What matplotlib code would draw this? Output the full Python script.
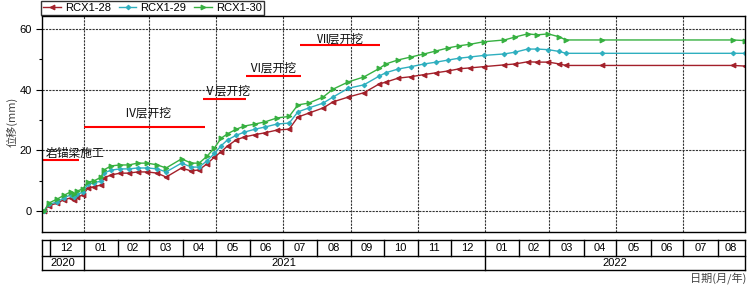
import numpy as np
import pandas as pd
import matplotlib
matplotlib.use("Agg")
import matplotlib.pyplot as plt
import matplotlib.dates as mdates
import matplotlib.transforms as mtransforms
from matplotlib.ticker import MultipleLocator

plt.rcParams['font.family'] = ['Liberation Sans', 'Noto Sans CJK SC', 'DejaVu Sans']

# 观测日期
dates = pd.to_datetime([
    "2020-11-26", "2020-11-30", "2020-12-08", "2020-12-14", "2020-12-20", "2020-12-23",
    "2020-12-26", "2020-12-31", "2021-01-05", "2021-01-10", "2021-01-17", "2021-01-19",
    "2021-01-26", "2021-02-03", "2021-02-11", "2021-02-19", "2021-02-28", "2021-03-09",
    "2021-03-17", "2021-03-31", "2021-04-09", "2021-04-16", "2021-04-23", "2021-04-30",
    "2021-05-06", "2021-05-12", "2021-05-20", "2021-05-27", "2021-06-06", "2021-06-15",
    "2021-06-26", "2021-07-07", "2021-07-15", "2021-07-25", "2021-08-07", "2021-08-16",
    "2021-08-30", "2021-09-13", "2021-09-27", "2021-10-03", "2021-10-14", "2021-10-26",
    "2021-11-07", "2021-11-18", "2021-11-29", "2021-12-09", "2021-12-19", "2021-12-31",
    "2022-01-19", "2022-01-29", "2022-02-09", "2022-02-18", "2022-02-28", "2022-03-10",
    "2022-03-16", "2022-04-18", "2022-08-15", "2022-08-26",
])

# 位移 (mm)
rcx1_28 = [0.0, 1.8, 2.6, 3.8, 4.3, 3.6, 4.6, 5.3, 7.6, 8.0, 8.6, 10.9,
           11.9, 12.5, 12.5, 12.9, 12.9, 12.5, 11.2, 14.2, 13.2, 13.6, 15.5, 17.8,
           19.5, 21.5, 23.5, 24.4, 25.2, 25.8, 26.7, 27.0, 31.0, 32.3, 34.0, 36.0,
           37.6, 39.0, 41.9, 42.5, 43.8, 44.3, 45.0, 45.6, 46.2, 46.9, 47.2, 47.6,
           48.2, 48.5, 49.2, 49.1, 49.1, 48.5, 48.0, 48.0, 48.0, 47.8]
rcx1_29 = [0.0, 2.2, 3.0, 4.4, 5.3, 4.6, 5.5, 6.2, 8.9, 9.3, 9.9, 12.5,
           13.5, 13.9, 13.9, 14.2, 14.2, 13.9, 12.9, 15.8, 14.5, 14.5, 16.5, 19.0,
           21.5, 23.5, 25.0, 26.0, 27.0, 27.7, 28.7, 29.0, 32.7, 34.0, 35.6, 37.6,
           40.5, 41.6, 44.5, 45.6, 46.8, 47.6, 48.5, 49.1, 49.8, 50.4, 50.8, 51.3,
           51.8, 52.4, 53.4, 53.4, 53.2, 52.6, 52.0, 52.0, 52.0, 52.0]
rcx1_30 = [0.0, 2.6, 4.0, 5.2, 6.3, 5.6, 6.6, 7.3, 9.6, 9.9, 11.2, 13.5,
           14.9, 15.2, 15.2, 15.8, 15.8, 15.2, 14.2, 17.2, 15.8, 15.8, 18.0, 20.8,
           24.0, 25.5, 27.0, 28.0, 28.7, 29.4, 30.7, 31.2, 35.0, 35.6, 37.6, 40.2,
           42.6, 44.2, 47.0, 48.5, 49.8, 50.8, 51.8, 52.8, 53.8, 54.5, 55.0, 55.8,
           56.4, 57.4, 58.4, 58.1, 58.4, 57.4, 56.4, 56.4, 56.4, 56.2]

series_names = ["RCX1-28", "RCX1-29", "RCX1-30"]

# 施工阶段标注: 文字, 线起点, 线终点, 线高度, 文字位置, 文字高度
stage_labels = ["岩锚梁施工", "Ⅳ层开挖", "Ⅴ层开挖", "Ⅵ层开挖", "Ⅶ层开挖"]
stage_start = ["2020-11-24", "2021-01-01", "2021-04-20", "2021-05-29", "2021-07-17"]
stage_end = ["2020-12-28", "2021-04-21", "2021-05-29", "2021-07-18", "2021-09-28"]
stage_y = [16.8, 27.7, 37.0, 44.6, 54.8]
stage_text_x = ["2020-11-27", "2021-02-28", "2021-05-11", "2021-06-22", "2021-08-23"]
stage_text_y = [19.1, 32.3, 39.6, 47.2, 56.8]

x_left = pd.Timestamp("2020-11-24")
x_right = pd.Timestamp("2022-08-26")

fig = plt.figure(figsize=(7.49, 2.86), dpi=100)
ax = fig.add_axes([42 / 749, 1 - 232 / 286, (745 - 42) / 749, (232 - 16) / 286])

styles = [("#A3202A", "<", 3.4), ("#2FAFBF", "D", 2.3), ("#36B040", ">", 3.4)]
handles = []
for vals, name, (col, mk, ms) in zip([rcx1_28, rcx1_29, rcx1_30], series_names, styles):
    h, = ax.plot(dates, vals, color=col, lw=1.0, marker=mk, ms=ms,
                 mfc=col, mec=col, mew=0.8, label=name)
    handles.append(h)

ax.set_xlim(x_left, x_right)
ax.set_ylim(-6.9, 64.3)
ax.yaxis.set_major_locator(MultipleLocator(20))
ax.yaxis.set_minor_locator(MultipleLocator(10))
ax.tick_params(axis='y', which='major', length=4, width=0.8, labelsize=8)
ax.tick_params(axis='y', which='minor', length=2.5, width=0.8)

grid_dates = pd.date_range("2021-01-01", "2022-08-01", freq="2MS")
ax.set_xticks(grid_dates)
ax.set_xticklabels([])
ax.tick_params(axis='x', length=0)
ax.grid(True, which='major', color='#333333', lw=0.8, linestyle=(0, (2, 1)))
for sp in ax.spines.values():
    sp.set_linewidth(1.0)

# 施工阶段
for lab, s, e, y, tx, ty in zip(stage_labels, stage_start, stage_end, stage_y,
                                stage_text_x, stage_text_y):
    ax.plot([pd.Timestamp(s), pd.Timestamp(e)], [y, y], color='red', lw=1.5,
            solid_capstyle='butt', clip_on=False)
    ha = 'left' if lab == "岩锚梁施工" else 'center'
    ax.text(pd.Timestamp(tx), ty, lab, ha=ha, va='center', fontsize=8.5,
            family=['Noto Sans CJK SC', 'DejaVu Sans'], color='#111111')

# 月/年 表格
trans = mtransforms.blended_transform_factory(ax.transData, ax.transAxes)
r0 = -(240 - 232) / 216
r1 = -(256 - 232) / 216
r2 = -(270 - 232) / 216
xl, xr = mdates.date2num(x_left), mdates.date2num(x_right)
kw = dict(color='black', lw=1.0, transform=trans, clip_on=False)
for yy in [r0, r1, r2]:
    ax.plot([xl, xr], [yy, yy], **kw)
ax.plot([xl, xl], [r0, r2], **kw)
ax.plot([xr, xr], [r0, r2], **kw)

month_starts = pd.date_range("2020-12-01", "2022-08-01", freq="MS")
for ms_ in month_starts:
    xm = mdates.date2num(ms_)
    if ms_.month == 1:
        ax.plot([xm, xm], [r0, r2], **kw)
    else:
        ax.plot([xm, xm], [r0, r1], **kw)
    nxt = min(mdates.date2num(ms_ + pd.offsets.MonthBegin(1)), xr)
    ax.text((xm + nxt) / 2, (r0 + r1) / 2, f"{ms_.month:02d}", transform=trans,
            ha='center', va='center', fontsize=8)

years = [2020, 2021, 2022]
for yr in years:
    a = max(mdates.date2num(pd.Timestamp(f"{yr}-01-01")), xl)
    b = min(mdates.date2num(pd.Timestamp(f"{yr + 1}-01-01")), xr)
    ax.text((a + b) / 2, (r1 + r2) / 2, str(yr), transform=trans,
            ha='center', va='center', fontsize=8)

fig.text(12 / 749, 1 - 122 / 286, "位移(mm)", rotation=90, ha='center', va='center',
         fontsize=8, color='#444444', family=['Noto Sans CJK SC', 'DejaVu Sans'])
fig.text(746 / 749, 1 - 278 / 286, "日期(月/年)", ha='right', va='center',
         fontsize=8, color='#444444', family=['Noto Sans CJK SC', 'DejaVu Sans'])

leg = fig.legend(handles=handles, loc='upper left', bbox_to_anchor=(41 / 749, 1 - 1 / 286),
                 ncol=3, fontsize=8, frameon=True, fancybox=False, edgecolor='black',
                 borderpad=0.2, handlelength=1.6, handletextpad=0.35, columnspacing=0.7,
                 borderaxespad=0)
leg.get_frame().set_linewidth(1.0)

fig.savefig("out.png", dpi=100)
